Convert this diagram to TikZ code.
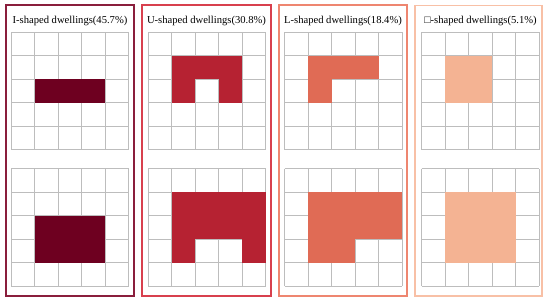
\documentclass[tikz,border=0pt]{standalone}
\usepackage{fontspec}
\setmainfont{Liberation Serif}
\definecolor{fa}{HTML}{6E0020}
\definecolor{fb}{HTML}{B62232}
\definecolor{fc}{HTML}{E06B55}
\definecolor{fd}{HTML}{F4B393}
\definecolor{ba}{HTML}{8A1E3C}
\definecolor{bb}{HTML}{D8404E}
\definecolor{bc}{HTML}{EE8670}
\definecolor{bd}{HTML}{F8C0A6}
\definecolor{gridc}{HTML}{BDBDBD}
\newcommand\dgrid[4]{%
  \begin{scope}[shift={(#1,#2)}]
    \foreach \i in {0,...,5} {
      \draw[gridline] ({\i*23.5},0) -- ({\i*23.5},117.5);
      \draw[gridline] (0,{\i*23.5}) -- (117.5,{\i*23.5});
    }
    \foreach \c/\r in {#4} {
      \fill[#3] ({\c*23.5},{\r*23.5}) rectangle +(23.5,23.5);
    }
  \end{scope}}
\begin{document}
\begin{tikzpicture}[x=1pt,y=-1pt,
  gridline/.style={draw=gridc,line width=0.8pt},
  panel/.style={line width=1.1pt},
  ttl/.style={font=\fontsize{10.6}{12}\selectfont,inner sep=0pt}]
\useasboundingbox (0,0) rectangle (550,303);
\fill[white] (0,0) rectangle (550,303);
% panels
\draw[panel,draw=ba] (6,5) rectangle (134,296);
\draw[panel,draw=bb] (142,5) rectangle (271,296);
\draw[panel,draw=bc] (279,5) rectangle (407,296);
\draw[panel,draw=bd] (415,5.5) rectangle (542,296);
% titles
\node[ttl] (t1) at (70,21) {I-shaped dwellings(45.7\%)};
\node[ttl] (t2) at (206.5,21) {U-shaped dwellings(30.8\%)};
\node[ttl] (t3) at (343,21) {L-shaped dwellings(18.4\%)};
\node[ttl] (t4) at (480.5,21) {□-shaped dwellings(5.1\%)};
% grids top
\dgrid{11}{32}{fa}{1/2,2/2,3/2}
\dgrid{148}{32}{fb}{1/1,2/1,3/1,1/2,3/2}
\dgrid{284.5}{32}{fc}{1/1,2/1,3/1,1/2}
\dgrid{421.5}{32}{fd}{1/1,2/1,1/2,2/2}
% grids bottom
\dgrid{11}{168.5}{fa}{1/2,2/2,3/2,1/3,2/3,3/3}
\dgrid{148}{168.5}{fb}{1/1,2/1,3/1,4/1,1/2,2/2,3/2,4/2,1/3,4/3}
\dgrid{284.5}{168.5}{fc}{1/1,2/1,3/1,4/1,1/2,2/2,3/2,4/2,1/3,2/3}
\dgrid{421.5}{168.5}{fd}{1/1,2/1,3/1,1/2,2/2,3/2,1/3,2/3,3/3}
\end{tikzpicture}
\end{document}
